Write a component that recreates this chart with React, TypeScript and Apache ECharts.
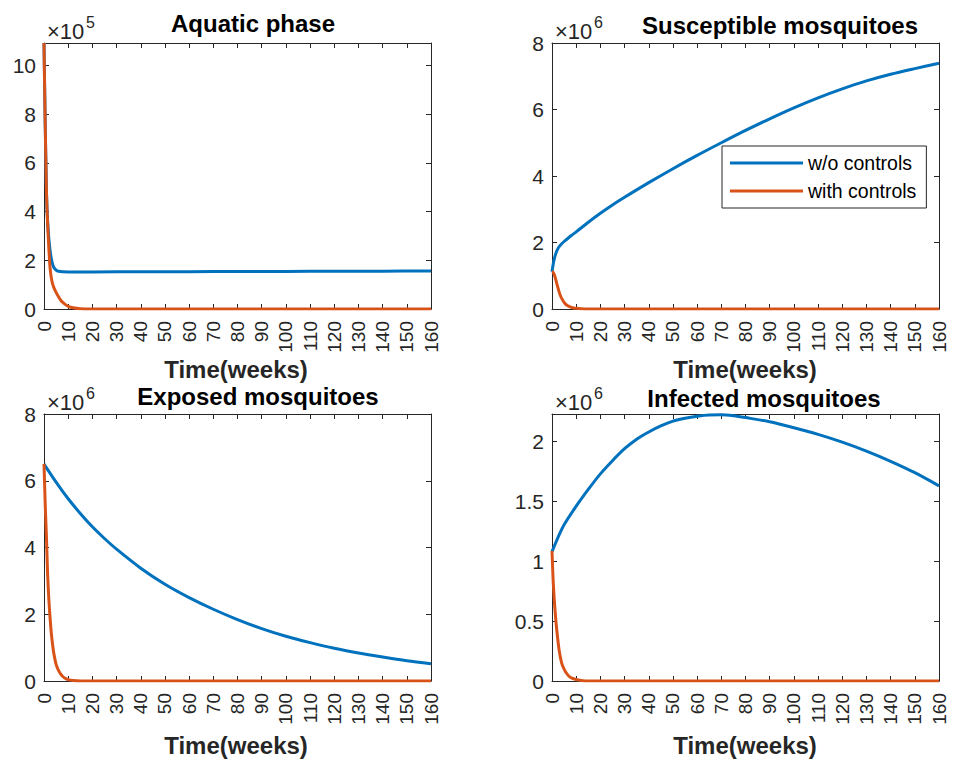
import React, { useEffect, useRef } from 'react';
import * as echarts from 'echarts';

const BLUE = '#0072BD';
const ORANGE = '#D95319';
const AXIS = '#262626';
const FONT = '"Liberation Sans", Arial, Helvetica, sans-serif';

const seriesNames = ['w/o controls', 'with controls'];
const xLabel = 'Time(weeks)';
const xMin = 0;
const xMax = 160;
const xStep = 10;

// Aquatic phase (values in units of 10^5)
const aquaticTimeNo = [0, 0.25, 0.5, 0.75, 1, 1.25, 1.5, 2, 2.5, 3, 3.5, 4, 5, 6, 8, 10, 20, 40, 60, 80, 100, 120, 140, 160];
const aquaticNo = [10.93, 9.2, 7.6, 6.2, 4.9, 4.1, 3.6, 2.9, 2.42, 2.08, 1.86, 1.72, 1.6, 1.55, 1.53, 1.525, 1.525, 1.53, 1.535, 1.54, 1.545, 1.55, 1.555, 1.56];
const aquaticTimeWith = [0, 0.25, 0.5, 0.75, 1, 1.25, 1.5, 2, 2.5, 3, 3.5, 4, 5, 6, 7, 8, 9, 10, 12, 15, 20, 160];
const aquaticWith = [10.93, 9.2, 7.6, 6.2, 4.9, 4.1, 3.5, 2.5, 1.7, 1.3, 1.05, 0.9, 0.68, 0.5, 0.35, 0.25, 0.17, 0.11, 0.05, 0.01, 0, 0];

// Susceptible mosquitoes (units of 10^6)
const suscTimeNo = [0, 0.5, 1, 1.5, 2, 3, 4, 5, 6, 8, 10, 15, 20, 25, 30, 40, 50, 60, 70, 80, 90, 100, 110, 120, 130, 140, 150, 160];
const suscNo = [1.12, 1.35, 1.52, 1.65, 1.75, 1.88, 1.96, 2.03, 2.09, 2.21, 2.32, 2.61, 2.88, 3.13, 3.36, 3.8, 4.22, 4.62, 5.0, 5.37, 5.72, 6.05, 6.35, 6.62, 6.86, 7.06, 7.23, 7.39];
const suscTimeWith = [0, 0.5, 1, 1.5, 2, 2.5, 3, 3.5, 4, 5, 6, 7, 8, 9, 10, 12, 15, 160];
const suscWith = [1.12, 1.1, 1.02, 0.9, 0.76, 0.63, 0.5, 0.4, 0.32, 0.2, 0.12, 0.08, 0.05, 0.03, 0.02, 0.008, 0, 0];

// Exposed mosquitoes (units of 10^6)
const expTimeNo = [0, 5, 10, 15, 20, 25, 30, 40, 50, 60, 70, 80, 90, 100, 110, 120, 130, 140, 150, 160];
const expNo = [6.5, 5.96, 5.46, 5.02, 4.62, 4.27, 3.95, 3.38, 2.9, 2.5, 2.15, 1.84, 1.57, 1.34, 1.15, 0.98, 0.84, 0.72, 0.61, 0.52];
const expTimeWith = [0, 0.25, 0.5, 0.75, 1, 1.5, 2, 2.5, 3, 3.5, 4, 5, 6, 7, 8, 9, 10, 12, 15, 160];
const expWith = [6.5, 5.9, 5.3, 4.8, 4.35, 3.2, 2.45, 1.9, 1.45, 1.12, 0.85, 0.5, 0.32, 0.2, 0.12, 0.07, 0.04, 0.015, 0, 0];

// Infected mosquitoes (units of 10^6)
const infTimeNo = [0, 2.5, 5, 10, 15, 20, 25, 30, 35, 40, 45, 50, 55, 60, 65, 70, 75, 80, 90, 100, 110, 120, 130, 140, 150, 160];
const infNo = [1.08, 1.2, 1.305, 1.46, 1.6, 1.73, 1.84, 1.94, 2.02, 2.08, 2.13, 2.17, 2.195, 2.212, 2.222, 2.223, 2.215, 2.2, 2.165, 2.115, 2.06, 1.995, 1.92, 1.835, 1.74, 1.63];
const infTimeWith = [0, 0.25, 0.5, 1, 1.5, 2, 3, 4, 5, 6, 7, 8, 10, 12, 15, 160];
const infWith = [1.086, 0.95, 0.83, 0.66, 0.53, 0.42, 0.25, 0.15, 0.1, 0.065, 0.04, 0.026, 0.012, 0.005, 0, 0];

const panels = [
  { title: 'Aquatic phase', exp: 5, yMax: 10.93, yStep: 2, tNo: aquaticTimeNo, vNo: aquaticNo, tWith: aquaticTimeWith, vWith: aquaticWith,
    left: 44, top: 43, width: 387, height: 266, titleX: 253, titleY: 23.5, nameX: 236, nameY: 369.5 },
  { title: 'Susceptible mosquitoes', exp: 6, yMax: 8, yStep: 2, tNo: suscTimeNo, vNo: suscNo, tWith: suscTimeWith, vWith: suscWith,
    left: 552, top: 43, width: 387, height: 266, titleX: 780, titleY: 25, nameX: 745, nameY: 369.5 },
  { title: 'Exposed mosquitoes', exp: 6, yMax: 8, yStep: 2, tNo: expTimeNo, vNo: expNo, tWith: expTimeWith, vWith: expWith,
    left: 44, top: 414, width: 387, height: 267, titleX: 258, titleY: 396.5, nameX: 236, nameY: 745 },
  { title: 'Infected mosquitoes', exp: 6, yMax: 2.23, yStep: 0.5, tNo: infTimeNo, vNo: infNo, tWith: infTimeWith, vWith: infWith,
    left: 552, top: 414, width: 387, height: 267, titleX: 764, titleY: 398, nameX: 745, nameY: 745 },
];

function buildOption() {
  const grid: any[] = [];
  const xAxis: any[] = [];
  const yAxis: any[] = [];
  const series: any[] = [];
  const graphic: any[] = [];

  panels.forEach((p, i) => {
    const scale = Math.pow(10, p.exp);
    grid.push({ left: p.left, top: p.top, width: p.width, height: p.height, containLabel: false });
    const axisLine = { show: true, onZero: false, lineStyle: { color: AXIS, width: 1 } };
    const axisTick = { show: true, inside: true, length: 5, lineStyle: { color: AXIS, width: 1 } };
    xAxis.push({
      type: 'value', gridIndex: i, position: 'bottom', min: xMin, max: xMax, interval: xStep,
      axisLine, axisTick, splitLine: { show: false },
      axisLabel: { show: true, rotate: 90, margin: 12, fontSize: 19, color: AXIS, fontFamily: FONT, interval: 0, hideOverlap: false },
    });
    xAxis.push({
      type: 'value', gridIndex: i, position: 'top', min: xMin, max: xMax, interval: xStep,
      axisLine, axisTick, splitLine: { show: false }, axisLabel: { show: false },
    });
    const yFmt = (v: number) => {
      const s = v / scale / p.yStep;
      if (Math.abs(s - Math.round(s)) > 1e-6) return '';
      return String(+(v / scale).toFixed(2));
    };
    yAxis.push({
      type: 'value', gridIndex: i, position: 'left', min: 0, max: p.yMax * scale, interval: p.yStep * scale,
      axisLine, axisTick, splitLine: { show: false },
      axisLabel: { show: true, margin: 8, fontSize: 21, color: AXIS, fontFamily: FONT, formatter: yFmt },
    });
    yAxis.push({
      type: 'value', gridIndex: i, position: 'right', min: 0, max: p.yMax * scale, interval: p.yStep * scale,
      axisLine, axisTick, splitLine: { show: false }, axisLabel: { show: false },
    });
    const mk = (ts: number[], vs: number[]) => ts.map((t, k) => [t, vs[k] * scale]);
    series.push({
      type: 'line', name: seriesNames[0], xAxisIndex: 2 * i, yAxisIndex: 2 * i,
      data: mk(p.tNo, p.vNo), showSymbol: false, symbol: 'none', smooth: 0.3,
      lineStyle: { color: BLUE, width: 3 }, itemStyle: { color: BLUE }, clip: true,
    });
    series.push({
      type: 'line', name: seriesNames[1], xAxisIndex: 2 * i, yAxisIndex: 2 * i,
      data: mk(p.tWith, p.vWith), showSymbol: false, symbol: 'none', smooth: 0.3,
      lineStyle: { color: ORANGE, width: 3 }, itemStyle: { color: ORANGE }, clip: true,
    });

    graphic.push({
      type: 'text', x: p.titleX, y: p.titleY,
      style: { text: p.title, fontSize: 24, fontWeight: 'bold', fontFamily: FONT, fill: '#000', align: 'center', verticalAlign: 'middle' },
    });
    graphic.push({
      type: 'text', x: p.nameX, y: p.nameY,
      style: { text: xLabel, fontSize: 24, fontWeight: 'bold', fontFamily: FONT, fill: AXIS, align: 'center', verticalAlign: 'middle' },
    });
    graphic.push({
      type: 'text', x: p.left + 3, y: p.top - 12,
      style: { text: '\u00d710', fontSize: 22, fontFamily: FONT, fill: AXIS, align: 'left', verticalAlign: 'middle' },
    });
    graphic.push({
      type: 'text', x: p.left + 42, y: p.top - 21,
      style: { text: String(p.exp), fontSize: 16, fontFamily: FONT, fill: AXIS, align: 'left', verticalAlign: 'middle' },
    });
  });

  return {
    animation: false,
    backgroundColor: '#ffffff',
    grid, xAxis, yAxis, series, graphic,
    legend: {
      data: seriesNames, orient: 'vertical', left: 722, top: 146,
      padding: [6, 10, 6, 8], itemGap: 6, itemWidth: 73, itemHeight: 3, icon: 'rect',
      borderColor: AXIS, borderWidth: 1, backgroundColor: '#ffffff', selectedMode: false,
      textStyle: { fontSize: 19.5, fontFamily: FONT, color: '#000', lineHeight: 22 },
    },
  };
}

export default function App() {
  const ref = useRef<HTMLDivElement>(null);
  useEffect(() => {
    if (!ref.current) return;
    const chart = echarts.init(ref.current, null, { renderer: 'svg' });
    chart.setOption(buildOption() as any);
    return () => chart.dispose();
  }, []);
  return <div ref={ref} style={{ position: 'fixed', left: 0, top: 0, width: 957, height: 760, background: '#fff' }} />;
}
